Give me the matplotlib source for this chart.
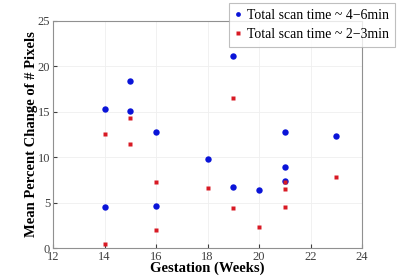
import matplotlib
matplotlib.use("Agg")
import matplotlib.pyplot as plt

plt.rcParams['font.family'] = ['Liberation Serif', 'DejaVu Serif']
plt.rcParams['mathtext.fontset'] = 'stix'

# long scans (4-6 min)
weeks_long = [14, 14, 15, 15, 16, 16, 18, 19, 19, 20, 21, 21, 21, 23]
change_long = [15.3, 4.55, 18.4, 15.1, 12.8, 4.6, 9.8, 21.1, 6.7, 6.35, 12.75, 8.9, 7.4, 12.35]

# short scans (2-3 min)
weeks_short = [14, 14, 15, 15, 16, 16, 18, 19, 19, 20, 21, 21, 21, 23]
change_short = [12.5, 0.4, 14.3, 11.4, 7.3, 2.0, 6.6, 16.5, 4.4, 2.35, 7.3, 6.5, 4.55, 7.8]

xticks = [12, 14, 16, 18, 20, 22, 24]
yticks = [0, 5, 10, 15, 20, 25]

fig = plt.figure(figsize=(4, 2.79), dpi=100)
ax = fig.add_axes([0.1325, 0.111, 0.7725, 0.814])

ax.plot(weeks_long, change_long, 'o', color='#0a14d8', ms=4.6, mec='none',
        label='Total scan time ~ 4\u22126min')
ax.plot(weeks_short, change_short, 's', color='#d81a24', ms=3.4, mec='none',
        label='Total scan time ~ 2\u22123min')

ax.set_xlim(12, 24)
ax.set_ylim(0, 25)
ax.set_xticks(xticks)
ax.set_yticks(yticks)
ax.tick_params(labelsize=9, colors='#404040', length=3, direction='in', pad=2)
ax.grid(True, color='#efefef', linewidth=0.6)
ax.set_axisbelow(True)
for s in ax.spines.values():
    s.set_color('#909090')
    s.set_linewidth(0.8)

ax.set_xlabel('Gestation (Weeks)', fontsize=10.5, fontweight='bold', labelpad=-1)
ax.set_ylabel('Mean Percent Change of # Pixels', fontsize=10.5, fontweight='bold')
ax.yaxis.set_label_coords(-0.05, 0.5)

leg = fig.legend(loc='upper left', bbox_to_anchor=(0.572, 0.988), fontsize=9.9,
                 frameon=True, fancybox=False, handlelength=0.6, handletextpad=0.35,
                 markerscale=0.75, borderpad=0.4, labelspacing=0.45, borderaxespad=0)
leg.get_frame().set_edgecolor('#b0b0b0')
leg.get_frame().set_linewidth(0.8)

fig.savefig('out.png', dpi=100)
